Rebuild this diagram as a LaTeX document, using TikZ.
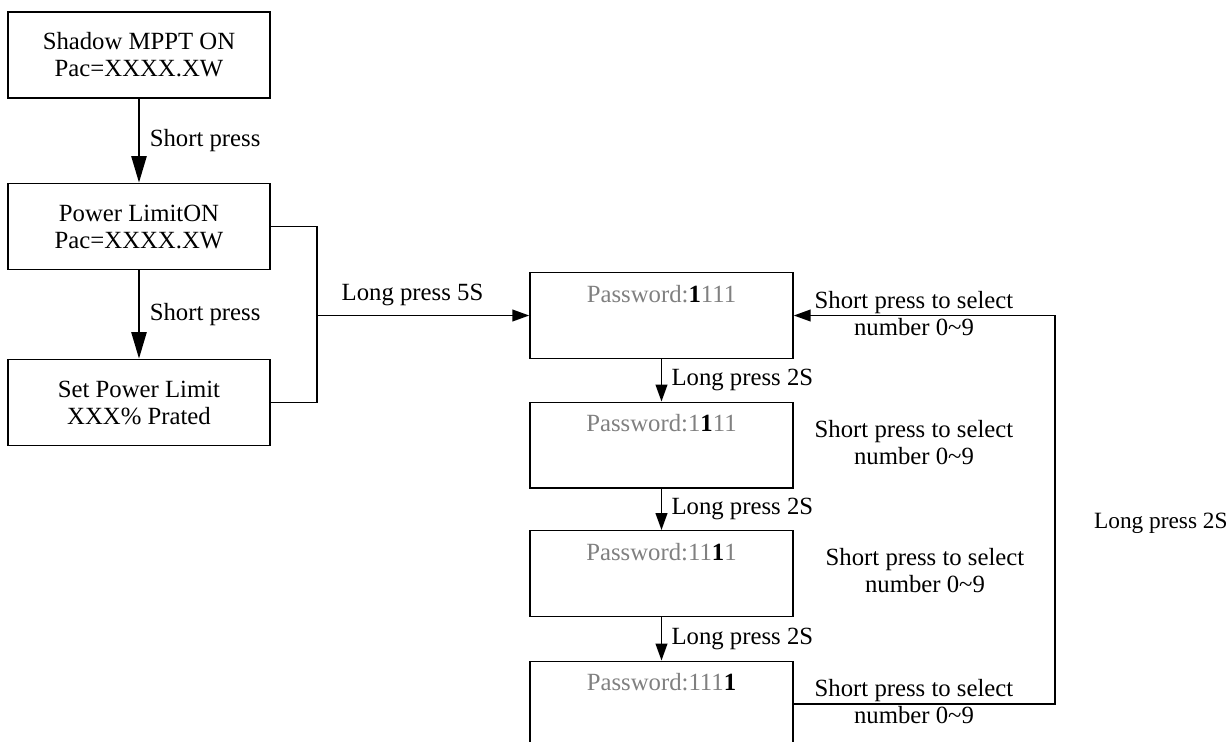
\documentclass[tikz,border=0pt]{standalone}
\usepackage{fontspec}
\setmainfont{Liberation Serif}
\usetikzlibrary{arrows.meta}
\begin{document}
\begin{tikzpicture}[x=0.125mm, y={(0,-0.125mm)},
    every node/.style={font=\fontsize{8.8}{9.6}\selectfont, align=center},
    menubox/.style={draw, line width=0.5pt, minimum width=3.275cm, minimum height=1.075cm, inner sep=0pt},
    pwbox/.style={draw, line width=0.5pt, minimum width=3.29cm, minimum height=1.07cm, inner sep=0pt, text=gray},
    bigarrow/.style={line width=1pt, -{Triangle[width=5.3pt,length=9.5pt]}},
    smallarrow/.style={line width=0.5pt, -{Triangle[width=4.2pt,length=6pt]}},
    link/.style={line width=0.5pt}]
\useasboundingbox (0,0) rectangle (1232,742);

% left menu column
\node[menubox] (mppt) at (139,55) {Shadow MPPT ON\\Pac=XXXX.XW};
\node[menubox] (limon) at (139,226.5) {Power LimitON\\Pac=XXXX.XW};
\node[menubox] (setlim) at (139,402.5) {Set Power Limit\\XXX\% Prated};

\draw[bigarrow] (mppt) -- node[right] {Short press} (limon);
\draw[bigarrow] (limon) -- node[right] {Short press} (setlim);

% password column
\node[pwbox] (pw1) at (661.5,315.5) {Password:\textcolor{black}{\textbf{1}}111\\[6pt]~};
\node[pwbox] (pw2) at (661.5,445) {Password:1\textcolor{black}{\textbf{1}}11\\[6pt]~};
\node[pwbox] (pw3) at (661.5,573.5) {Password:11\textcolor{black}{\textbf{1}}1\\[6pt]~};
\node[pwbox] (pw4) at (661.5,704) {Password:111\textcolor{black}{\textbf{1}}\\[6pt]~};

\draw[smallarrow] (pw1) -- node[right] {Long press 2S} (pw2);
\draw[smallarrow] (pw2) -- node[right] {Long press 2S} (pw3);
\draw[smallarrow] (pw3) -- node[right] {Long press 2S} (pw4);

% joining the two columns
\coordinate (jn) at (317,315.5);
\draw[link] (limon.east) -| (jn) |- (setlim.east);
\draw[smallarrow] (jn) -- node[above, pos=0.45] {Long press 5S} (pw1.west);

% back loop
\coordinate (loopt) at (1055,315.5);
\draw[smallarrow] (pw4.east) -| (loopt) -- (pw1.east);

\node (sel1) at (914,313.5) {Short press to select\\number 0\textasciitilde 9};
\node (sel2) at (914,443) {Short press to select\\number 0\textasciitilde 9};
\node (sel3) at (925,571) {Short press to select\\number 0\textasciitilde 9};
\node (sel4) at (914,702) {Short press to select\\number 0\textasciitilde 9};
\node[anchor=east, inner sep=1pt, font=\fontsize{8.3}{9}\selectfont] (lp) at (1231,523) {Long press 2S};
\end{tikzpicture}
\end{document}
